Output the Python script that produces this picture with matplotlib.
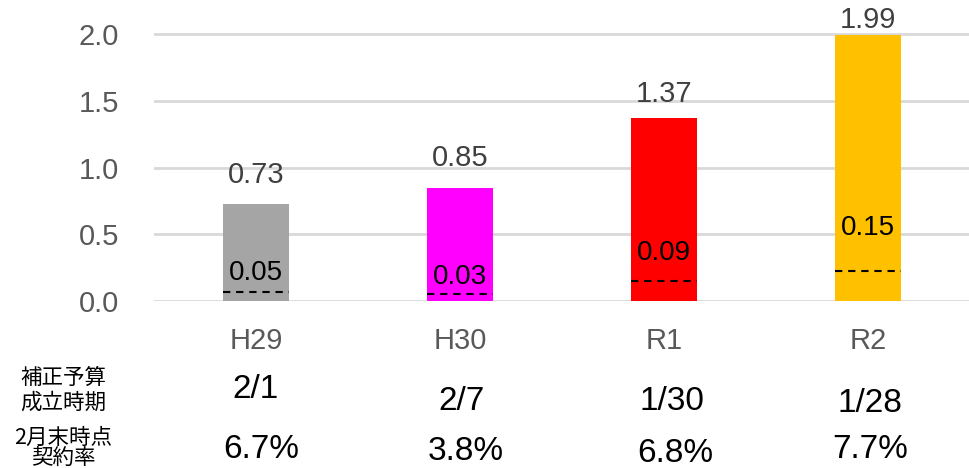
import matplotlib
matplotlib.use('Agg')
import matplotlib.pyplot as plt

plt.rcParams['font.family'] = ['Liberation Sans', 'Noto Sans CJK JP', 'DejaVu Sans']

# ── data ────────────────────────────────────────────────────────────────────
years = ['H29', 'H30', 'R1', 'R2']
totals = [0.73, 0.85, 1.37, 1.99]
colors = ['#a5a5a5', '#ff00ff', '#ff0000', '#ffc000']
feb_values = [0.05, 0.03, 0.09, 0.15]          # label inside bar
feb_levels = [0.067, 0.055, 0.15, 0.225]       # dashed line height as drawn
passed_dates = ['2/1', '2/7', '1/30', '1/28']
contract_rates = ['6.7%', '3.8%', '6.8%', '7.7%']

W, H = 970, 468
Y0, PX_PER_UNIT = 301, 133.5
fig = plt.figure(figsize=(W / 100, H / 100), dpi=100)
ax = fig.add_axes([154 / W, 1 - Y0 / H, 1 - 154 / W, (Y0 - 30) / H])

x = list(range(len(years)))
bw = 0.32
ax.bar(x, totals, width=bw, color=colors, zorder=2)

# label offsets above the bar top (px); last one is squeezed onto the bar
top_off = [29, 30, 24, 15]
inner_y = [273, 277, 253, 228]
for i in x:
    ax.plot([i - bw / 2, i + bw / 2], [feb_levels[i]] * 2, color='black',
            lw=1.5, ls=(0, (3.5, 2.8)), zorder=3)
    ax.annotate(f'{totals[i]:.2f}', (i, totals[i]), xytext=(0, top_off[i] * 0.72),
                textcoords='offset points', ha='center', va='center',
                fontsize=21, color='#404040', zorder=4, annotation_clip=False)
    ax.text(i, (Y0 - inner_y[i]) / PX_PER_UNIT, f'{feb_values[i]:.2f}',
            ha='center', va='center', fontsize=20, color='black', zorder=4)

ax.set_xlim(-0.5, 3.5)
ax.set_ylim(0, 2.03)
ax.set_yticks([0, 0.5, 1.0, 1.5, 2.0])
ax.set_yticklabels([f'{v:.1f}' for v in [0, 0.5, 1.0, 1.5, 2.0]])
ax.set_xticks(x)
ax.set_xticklabels(years)
ax.tick_params(axis='both', length=0, labelsize=21, labelcolor='#595959')
ax.tick_params(axis='y', pad=25)
ax.tick_params(axis='x', pad=19)
ax.yaxis.grid(True, color='#d9d9d9', lw=2)
ax.set_axisbelow(True)
for s in ax.spines.values():
    s.set_visible(False)

# ── table-like rows under the chart ────────────────────────────────────────
def ftext(px, py, s, **kw):
    fig.text(px / W, 1 - py / H, s, ha='center', va='center', **kw)

jp = ['Noto Sans CJK JP']
ftext(63, 378, '補正予算', fontsize=15.5, family=jp)
ftext(63, 403, '成立時期', fontsize=15.5, family=jp)
ftext(63, 438, '2月末時点', fontsize=15.5, family=jp)
ftext(63, 458, '契約率', fontsize=15.5, family=jp)

date_xy = [(256, 390), (462, 402), (672, 402), (870, 404)]
rate_xy = [(261, 450), (466, 451), (675, 453), (870, 449)]
for (px, py), s in zip(date_xy, passed_dates):
    ftext(px, py, s, fontsize=24)
for (px, py), s in zip(rate_xy, contract_rates):
    ftext(px, py, s, fontsize=24)

fig.savefig('out.png', dpi=100)
